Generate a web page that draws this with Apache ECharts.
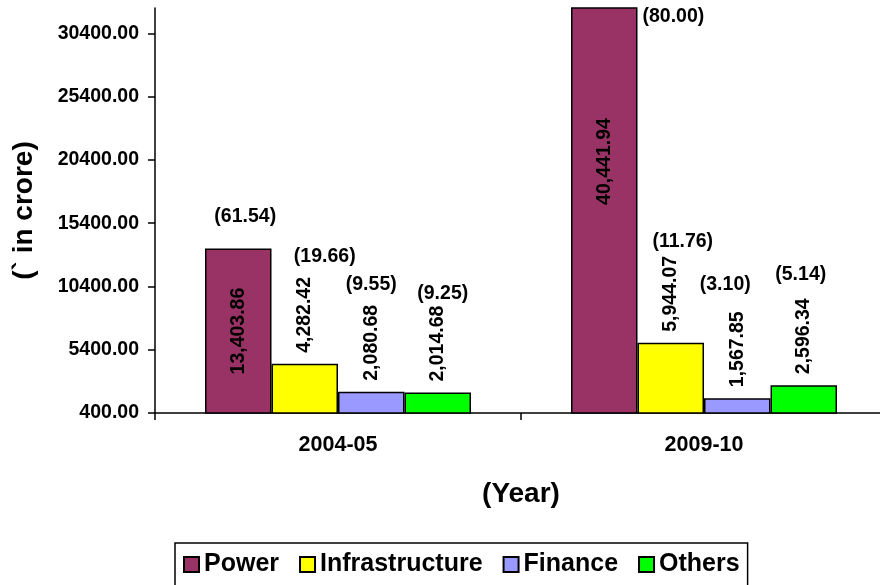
<!DOCTYPE html>
<html>
<head>
<meta charset="utf-8">
<script src="https://cdn.jsdelivr.net/npm/echarts@6/dist/echarts.min.js"></script>
<style>html,body{margin:0;padding:0;background:#fff;}#c{width:880px;height:585px;}</style>
</head>
<body>
<div id="c"></div>
<script>
const categories = ['2004-05', '2009-10'];
const seriesNames = ['Power', 'Infrastructure', 'Finance', 'Others'];
const power = [13403.86, 40441.94];
const infrastructure = [4282.42, 5944.07];
const finance = [2080.68, 1567.85];
const others = [2014.68, 2596.34];
const powerPct = [61.54, 80.00];
const infrastructurePct = [19.66, 11.76];
const financePct = [9.55, 3.10];
const othersPct = [9.25, 5.14];
const yTicks = [400, 5400, 10400, 15400, 20400, 25400, 30400];

const colors = ['#993366', '#FFFF00', '#9999FF', '#00FF00'];
const values = [power, infrastructure, finance, others];
const pcts = [powerPct, infrastructurePct, financePct, othersPct];
// label placement styles (distance above bar, horizontal nudge)
const pctStyle = [
  [{d: 22, dx: 7}, null],
  [{d: 97, dx: 20}, {d: 91, dx: 12}],
  [{d: 97, dx: 0}, {d: 104, dx: -12}],
  [{d: 89, dx: 5}, {d: 101, dx: -3}]
];
const FONT = 'Liberation Sans';
const fmt = v => v.toLocaleString('en-US', {minimumFractionDigits: 2, maximumFractionDigits: 2});

const series = [];
values.forEach((arr, i) => {
  series.push({
    name: seriesNames[i],
    type: 'bar',
    xAxisIndex: 0,
    barWidth: 66.5,
    barGap: 0,
    itemStyle: {color: colors[i], borderColor: '#000', borderWidth: 1.5},
    label: i === 0 ? {
      show: true, position: 'inside', rotate: 90, align: 'center', verticalAlign: 'middle',
      fontFamily: FONT, fontWeight: 'bold', fontSize: 19.5, color: '#000',
      formatter: p => fmt(p.value)
    } : {
      show: true, position: 'top', rotate: 90, align: 'left', verticalAlign: 'middle', distance: 11,
      fontFamily: FONT, fontWeight: 'bold', fontSize: 19.5, color: '#000',
      formatter: p => fmt(p.value)
    },
    data: arr.map((v, j) => (i === 0 && j === 1) ? {value: v, label: {offset: [49, 0]}} : v)
  });
});
values.forEach((arr, i) => {
  series.push({
    name: seriesNames[i] + ' %',
    type: 'bar',
    xAxisIndex: 1,
    barWidth: 66.5,
    barGap: 0,
    silent: true,
    itemStyle: {color: 'rgba(0,0,0,0)'},
    label: {
      show: true, position: 'top',
      fontFamily: FONT, fontWeight: 'bold', fontSize: 19.5, color: '#000',
      formatter: p => '(' + pcts[i][p.dataIndex].toFixed(2) + ')'
    },
    data: arr.map((v, j) => {
      const s = pctStyle[i][j];
      if (s) return {value: v, label: {distance: s.d, offset: [s.dx, 0]}};
      return {value: v, label: {position: ['100%', 0], align: 'left', verticalAlign: 'top', offset: [5, -1]}};
    })
  });
});

const chart = echarts.init(document.getElementById('c'));
chart.setOption({
  animation: false,
  backgroundColor: '#fff',
  grid: {left: 155, top: 8, width: 732, height: 405, outerBoundsMode: 'none', containLabel: false},
  legend: {
    data: seriesNames,
    left: 175, top: 543,
    padding: [9, 8, 12, 8],
    borderColor: '#000', borderWidth: 1.5,
    itemWidth: 15, itemHeight: 15, itemGap: 20,
    icon: 'rect',
    textStyle: {fontFamily: FONT, fontWeight: 'bold', fontSize: 25, color: '#000'}
  },
  xAxis: [{
    type: 'category', data: categories,
    axisLine: {lineStyle: {color: '#000', width: 1.5}},
    axisTick: {show: true, length: 7, lineStyle: {color: '#000', width: 1.5}},
    axisLabel: {fontFamily: FONT, fontWeight: 'bold', fontSize: 21.5, color: '#000', margin: 21},
    name: '(Year)', nameLocation: 'middle', nameGap: 67,
    nameTextStyle: {fontFamily: FONT, fontWeight: 'bold', fontSize: 28, color: '#000'}
  }, {
    type: 'category', data: categories, show: false
  }],
  yAxis: {
    type: 'value', min: 400, max: 32400,
    axisLine: {show: true, lineStyle: {color: '#000', width: 1.5}},
    axisTick: {show: true, length: 7, lineStyle: {color: '#000', width: 1.5}, customValues: yTicks},
    axisLabel: {customValues: yTicks, fontFamily: FONT, fontWeight: 'bold', fontSize: 19.5, color: '#000', margin: 16,
      formatter: v => v.toFixed(2)},
    splitLine: {show: false},
    name: '(` in crore)', nameLocation: 'middle', nameRotate: 90, nameGap: 117,
    nameTextStyle: {fontFamily: FONT, fontWeight: 'bold', fontSize: 28, color: '#000'}
  },
  series: series
});
</script>
</body>
</html>
